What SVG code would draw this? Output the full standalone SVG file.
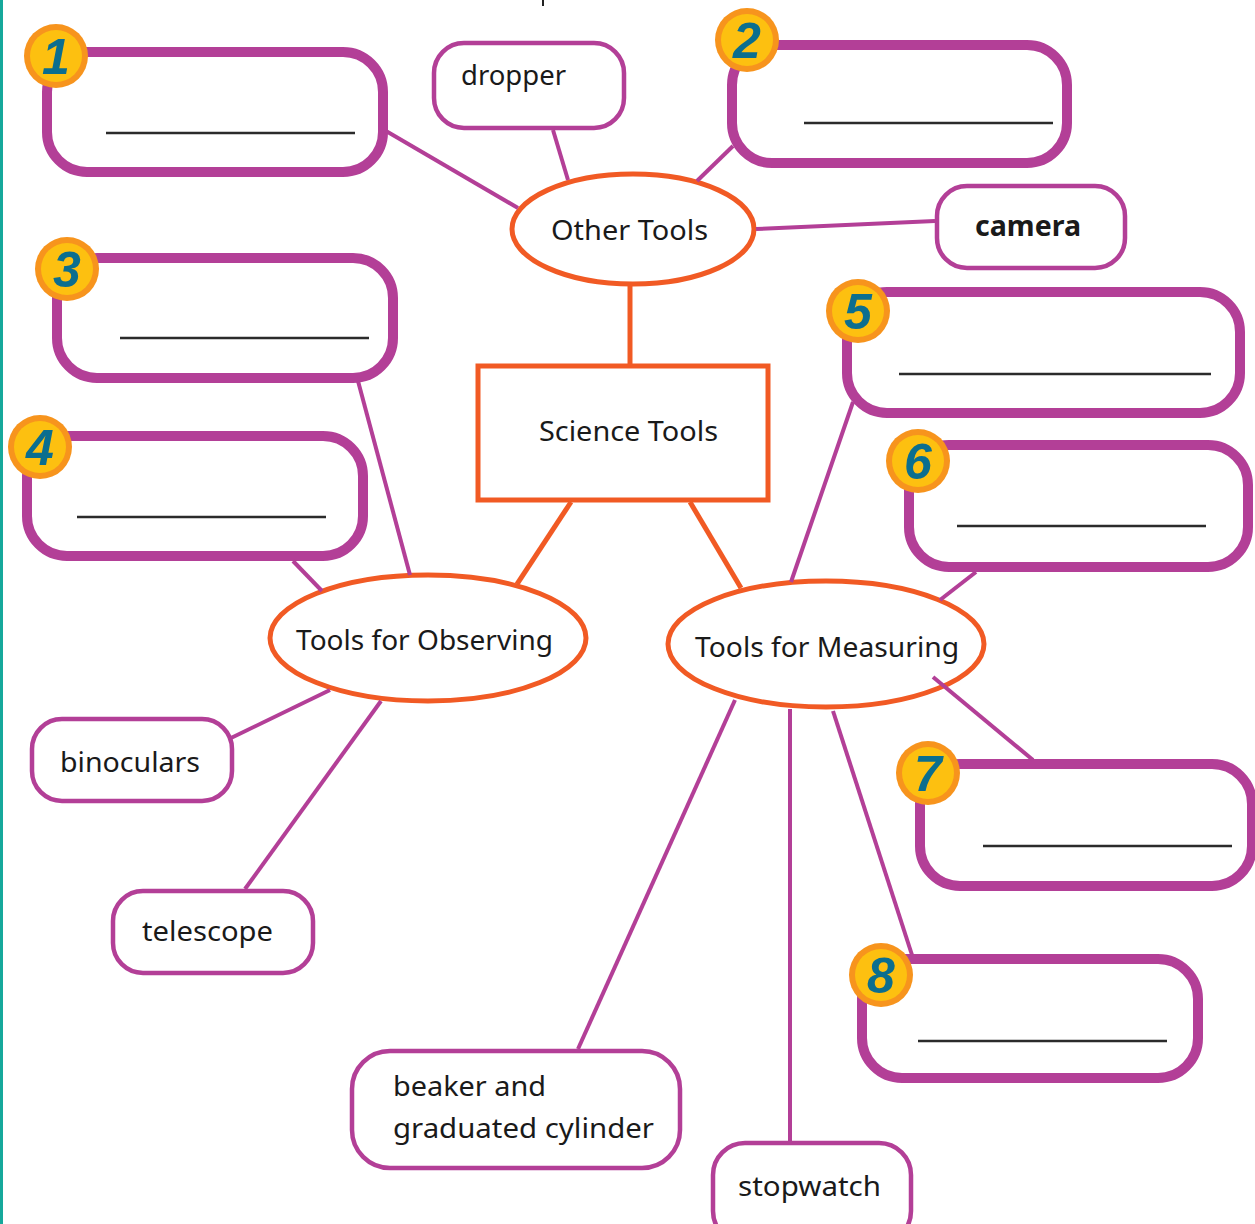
<svg xmlns="http://www.w3.org/2000/svg" width="1255" height="1224" viewBox="0 0 1255 1224">
<style>
.big{fill:#fff;stroke:#B33F97;stroke-width:10}
.small{fill:#fff;stroke:#B33F97;stroke-width:4.5}
.oval{fill:#fff;stroke:#F15A24;stroke-width:5}
.blank{stroke:#2b2b2b;stroke-width:2.6}
.pc{stroke:#B33F97;stroke-width:4;fill:none}
.oc{stroke:#F15A24;stroke-width:5;fill:none}
.ring{fill:#F7941D}
.disc{fill:#FDC010}
.num{font-family:"Liberation Sans",Arial,sans-serif;font-weight:bold;font-style:italic;font-size:50px;fill:#0B6E8F;text-anchor:middle}
.lbl{font-family:"Noto Sans","Lato",sans-serif;font-size:28px;fill:#1a1a1a}
</style>
<rect x="0" y="0" width="1255" height="1224" fill="#fff"/>
<rect x="0" y="0" width="3" height="1224" fill="#16A89B"/>
<line x1="543" y1="0" x2="543" y2="6" stroke="#222" stroke-width="2"/>

<g id="n1"><rect class="big" x="47" y="52" width="336" height="120" rx="40"/><line class="blank" x1="106" y1="133" x2="355" y2="133"/><circle class="ring" cx="56" cy="56" r="32"/><circle class="disc" cx="56" cy="56" r="26"/><text class="num" x="56" y="74">1</text></g>
<g id="n2"><rect class="big" x="732" y="45" width="335" height="118" rx="40"/><line class="blank" x1="804" y1="123" x2="1053" y2="123"/><circle class="ring" cx="747" cy="40" r="32"/><circle class="disc" cx="747" cy="40" r="26"/><text class="num" x="747" y="58">2</text></g>
<g id="n3"><rect class="big" x="57" y="258" width="336" height="120" rx="40"/><line class="blank" x1="120" y1="338" x2="369" y2="338"/><circle class="ring" cx="67" cy="269" r="32"/><circle class="disc" cx="67" cy="269" r="26"/><text class="num" x="67" y="287">3</text></g>
<g id="n4"><rect class="big" x="27" y="436" width="336" height="120" rx="40"/><line class="blank" x1="77" y1="517" x2="326" y2="517"/><circle class="ring" cx="40" cy="447" r="32"/><circle class="disc" cx="40" cy="447" r="26"/><text class="num" x="40" y="465">4</text></g>
<g id="n5"><rect class="big" x="847" y="292" width="393" height="121" rx="40"/><line class="blank" x1="899" y1="374" x2="1211" y2="374"/><circle class="ring" cx="858" cy="311" r="32"/><circle class="disc" cx="858" cy="311" r="26"/><text class="num" x="858" y="329">5</text></g>
<g id="n6"><rect class="big" x="909" y="445" width="339" height="122" rx="40"/><line class="blank" x1="957" y1="526" x2="1206" y2="526"/><circle class="ring" cx="918" cy="461" r="32"/><circle class="disc" cx="918" cy="461" r="26"/><text class="num" x="918" y="479">6</text></g>
<g id="n7"><rect class="big" x="920" y="764" width="332" height="122" rx="40"/><line class="blank" x1="983" y1="846" x2="1232" y2="846"/><circle class="ring" cx="928" cy="773" r="32"/><circle class="disc" cx="928" cy="773" r="26"/><text class="num" x="928" y="791">7</text></g>
<g id="n8"><rect class="big" x="862" y="959" width="336" height="119" rx="40"/><line class="blank" x1="918" y1="1041" x2="1167" y2="1041"/><circle class="ring" cx="881" cy="975" r="32"/><circle class="disc" cx="881" cy="975" r="26"/><text class="num" x="881" y="993">8</text></g>

<g id="dropper"><rect class="small" x="434" y="43" width="190" height="85" rx="30"/><text class="lbl" x="461" y="85" textLength="105" lengthAdjust="spacingAndGlyphs">dropper</text></g>
<g id="camera"><rect class="small" x="937" y="186" width="188" height="82" rx="30"/><text class="lbl" x="975" y="236" font-weight="bold" textLength="106" lengthAdjust="spacingAndGlyphs">camera</text></g>
<g id="other-tools"><ellipse class="oval" cx="633" cy="229" rx="121" ry="55"/><text class="lbl" x="551" y="240" font-size="30" textLength="157" lengthAdjust="spacingAndGlyphs">Other Tools</text></g>
<g id="science-tools"><rect x="478" y="366" width="290" height="134" fill="#fff" stroke="#F15A24" stroke-width="5"/><text class="lbl" x="539" y="441" font-size="30" textLength="179" lengthAdjust="spacingAndGlyphs">Science Tools</text></g>
<g id="observing"><ellipse class="oval" cx="428" cy="638" rx="158" ry="63"/><text class="lbl" x="296" y="650" font-size="30" textLength="257" lengthAdjust="spacingAndGlyphs">Tools for Observing</text></g>
<g id="measuring"><ellipse class="oval" cx="826" cy="644" rx="158" ry="63"/><text class="lbl" x="695" y="657" font-size="30" textLength="264" lengthAdjust="spacingAndGlyphs">Tools for Measuring</text></g>
<g id="binoculars"><rect class="small" x="32" y="719" width="200" height="82" rx="30"/><text class="lbl" x="60" y="772" textLength="140" lengthAdjust="spacingAndGlyphs">binoculars</text></g>
<g id="telescope"><rect class="small" x="113" y="891" width="200" height="82" rx="30"/><text class="lbl" x="142" y="941" textLength="131" lengthAdjust="spacingAndGlyphs">telescope</text></g>
<g id="beaker"><rect class="small" x="352" y="1051" width="328" height="117" rx="38"/><text class="lbl" x="393" y="1096" textLength="153" lengthAdjust="spacingAndGlyphs">beaker and</text><text class="lbl" x="393" y="1138" textLength="261" lengthAdjust="spacingAndGlyphs">graduated cylinder</text></g>
<g id="stopwatch"><rect class="small" x="713" y="1143" width="198" height="100" rx="32"/><text class="lbl" x="738" y="1196" textLength="143" lengthAdjust="spacingAndGlyphs">stopwatch</text></g>

<g id="connectors">
<line class="pc" x1="386" y1="131" x2="518" y2="208"/>
<line class="pc" x1="553" y1="130" x2="568" y2="180"/>
<line class="pc" x1="733" y1="146" x2="697" y2="181"/>
<line class="pc" x1="756" y1="229" x2="935" y2="221"/>
<line class="pc" x1="358" y1="381" x2="410" y2="575"/>
<line class="pc" x1="293" y1="561" x2="322" y2="591"/>
<line class="pc" x1="231" y1="738" x2="330" y2="690"/>
<line class="pc" x1="245" y1="889" x2="381" y2="701"/>
<line class="pc" x1="853" y1="402" x2="791" y2="582"/>
<line class="pc" x1="976" y1="572" x2="940" y2="600"/>
<line class="pc" x1="933" y1="677" x2="1033" y2="760"/>
<line class="pc" x1="735" y1="700" x2="578" y2="1049"/>
<line class="pc" x1="790" y1="709" x2="790" y2="1141"/>
<line class="pc" x1="833" y1="711" x2="912" y2="955"/>
<line class="oc" x1="630" y1="286" x2="630" y2="364"/>
<line class="oc" x1="571" y1="502" x2="517" y2="584"/>
<line class="oc" x1="690" y1="502" x2="741" y2="588"/>
</g>
</svg>
